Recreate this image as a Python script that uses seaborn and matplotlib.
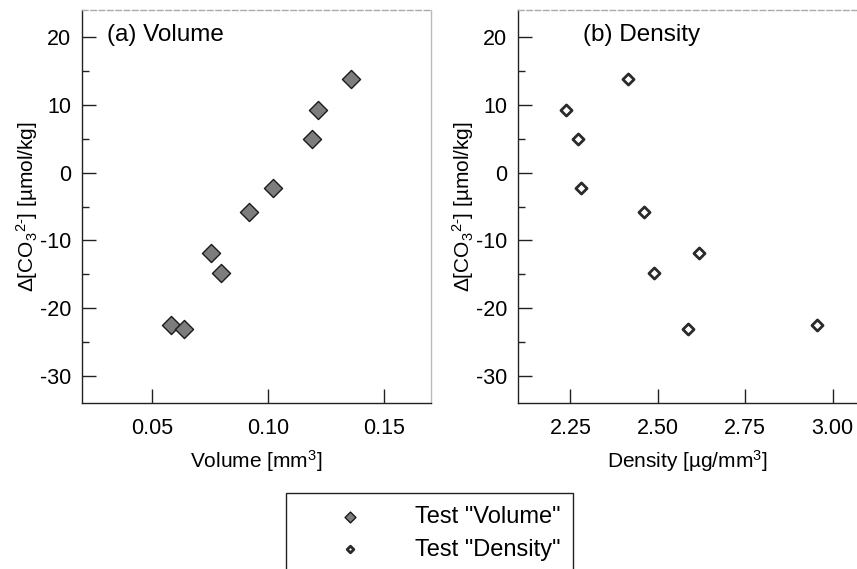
import matplotlib
matplotlib.use("Agg")
import matplotlib.pyplot as plt
from matplotlib.ticker import MultipleLocator, FormatStrFormatter
import seaborn as sns
import pandas as pd

# data
delta_co3 = [-22.5, -23.1, -11.8, -14.8, -5.85, -2.3, 4.93, 9.26, 13.84]
volume = [0.0582, 0.0638, 0.0754, 0.0799, 0.0918, 0.1023, 0.1189, 0.1213, 0.1356]
density = [2.955, 2.587, 2.617, 2.488, 2.460, 2.279, 2.271, 2.237, 2.416]
vol_ticks = [0.05, 0.10, 0.15]
den_ticks = [2.25, 2.50, 2.75, 3.00]
y_ticks = [-30, -20, -10, 0, 10, 20]

df = pd.DataFrame({"volume": volume, "density": density, "delta": delta_co3})

sns.set_style("white")
plt.rcParams["font.family"] = ["Liberation Sans", "DejaVu Sans"]
plt.rcParams["mathtext.fontset"] = "custom"
plt.rcParams["mathtext.rm"] = "Liberation Sans"
plt.rcParams["mathtext.it"] = "Liberation Sans:italic"
plt.rcParams["axes.unicode_minus"] = False
for k in ["text.color", "axes.labelcolor", "xtick.labelcolor", "ytick.labelcolor"]:
    plt.rcParams[k] = "black"

fig = plt.figure(figsize=(8.57, 5.69), dpi=100)
ax1 = fig.add_axes([82/857, 1-403/569, (431-82)/857, (403-10)/569])
ax2 = fig.add_axes([518/857, 1-403/569, (857-518)/857, (403-10)/569])

sns.scatterplot(data=df, x="volume", y="delta", ax=ax1, marker="D", s=85,
                color="#7d7d7d", edgecolor="#1a1a1a", linewidth=1.0,
                label='Test "Volume"', legend=False, zorder=3)
sns.scatterplot(data=df, x="density", y="delta", ax=ax2, marker="D", s=32,
                color="white", edgecolor="#2a2a2a", linewidth=2.0,
                label='Test "Density"', legend=False, zorder=3)

ylabel = r"Δ[CO$_3$$^{2\text{-}}$] [µmol/kg]"
for ax, xt, xl, xlab, title, tx in [
        (ax1, vol_ticks, (0.02, 0.17), "Volume [mm$^3$]", "(a) Volume", 107),
        (ax2, den_ticks, (2.10, 3.07), "Density [µg/mm$^3$]", "(b) Density", 583)]:
    ax.set_xlim(*xl)
    ax.set_ylim(-34, 24)
    ax.set_xticks(xt)
    ax.set_yticks(y_ticks)
    ax.yaxis.set_minor_locator(MultipleLocator(5))
    ax.xaxis.set_major_formatter(FormatStrFormatter("%.2f"))
    ax.tick_params(axis="both", which="major", direction="in", length=10, width=1,
                   color="#222222", labelsize=15.5, labelcolor="black",
                   left=True, bottom=True)
    ax.tick_params(axis="y", which="minor", direction="in", length=5, width=1,
                   color="#222222", left=True)
    ax.tick_params(axis="x", pad=11)
    ax.tick_params(axis="y", pad=8)
    ax.set_xlabel(xlab, fontsize=15, labelpad=6, color="black")
    ax.set_ylabel(ylabel, fontsize=15, labelpad=0, color="black")
    for s in ["left", "bottom"]:
        ax.spines[s].set_color("#222222")
        ax.spines[s].set_linewidth(1.0)
    ax.spines["top"].set_color("#aaaaaa")
    ax.spines["top"].set_linestyle((0, (4, 2)))
    ax.spines["top"].set_linewidth(1.0)
    ax.grid(False)
    fig.text(tx/857, 1-35/569, title, fontsize=17.5, va="center", ha="left",
             color="black")

ax1.spines["right"].set_color("#bbbbbb")
ax1.spines["right"].set_linewidth(1.0)
ax2.spines["right"].set_visible(False)

h1, l1 = ax1.get_legend_handles_labels()
h2, l2 = ax2.get_legend_handles_labels()
leg = fig.legend(h1 + h2, l1 + l2, loc="upper left", bbox_to_anchor=(286/857, 1-493/569),
                 fontsize=17, frameon=True, fancybox=False, edgecolor="#222222",
                 framealpha=1, borderpad=0.55, handlelength=4.3, handletextpad=0.6,
                 labelspacing=0.45, markerscale=0.6, borderaxespad=0)
leg.get_frame().set_linewidth(1.0)
for t in leg.get_texts():
    t.set_color("black")

fig.savefig("out.png", dpi=100)
